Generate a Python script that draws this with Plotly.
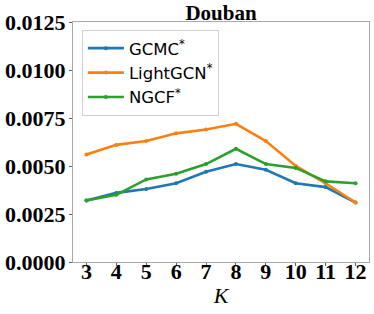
import plotly.graph_objects as go

K = [3, 4, 5, 6, 7, 8, 9, 10, 11, 12]
gcmc = [0.0032, 0.0036, 0.0038, 0.0041, 0.0047, 0.0051, 0.0048, 0.0041, 0.0039, 0.0031]
lightgcn = [0.0056, 0.0061, 0.0063, 0.0067, 0.0069, 0.0072, 0.0063, 0.0050, 0.0041, 0.0031]
ngcf = [0.0032, 0.0035, 0.0043, 0.0046, 0.0051, 0.0059, 0.0051, 0.0049, 0.0042, 0.0041]
names = ["GCMC<sup>*</sup>", "LightGCN<sup>*</sup>", "NGCF<sup>*</sup>"]
colors = ["#1f77b4", "#ff7f0e", "#2ca02c"]
yticks = [0.0, 0.0025, 0.005, 0.0075, 0.01, 0.0125]
ytick_text = ["0.0000", "0.0025", "0.0050", "0.0075", "0.0100", "0.0125"]

fig = go.Figure()
for name, vals, c in zip(names, [gcmc, lightgcn, ngcf], colors):
    fig.add_trace(go.Scatter(x=K, y=vals, name=name, mode="lines+markers",
                             line=dict(color=c, width=2.6),
                             marker=dict(color=c, size=4)))

serif = "Liberation Serif, Times New Roman, serif"
fig.update_layout(
    width=374, height=314,
    margin=dict(l=73, r=5, t=22, b=52),
    plot_bgcolor="white", paper_bgcolor="white",
    title=dict(text="Douban", x=0.5, xref="paper", xanchor="center",
               y=1 - 13 / 314, yref="container", yanchor="middle",
               font=dict(family=serif, size=21, color="black", weight="bold")),
    showlegend=True,
    legend=dict(x=0.03, y=0.967, xanchor="left", yanchor="top",
                bgcolor="white", bordercolor="#d0d0d0", borderwidth=1,
                font=dict(family="DejaVu Sans, sans-serif", size=16.5, color="black"),
                itemwidth=36, tracegroupgap=2),
    xaxis=dict(range=[2.55, 12.45], tickmode="array", tickvals=K,
               ticktext=[str(k) for k in K], automargin=False,
               tickfont=dict(family=serif, size=22, color="black", weight="bold"),
               showgrid=False, zeroline=False, showline=True, mirror=True,
               linecolor="#a8a8a8", linewidth=1.2, ticks="outside", ticklen=3,
               tickcolor="#606060", ticklabelstandoff=-14,
               title=dict(text="<i>K</i>", font=dict(family=serif, size=22, color="black"),
                          standoff=5)),
    yaxis=dict(range=[0, 0.0125], tickmode="array", tickvals=yticks, ticktext=ytick_text,
               automargin=False,
               tickfont=dict(family=serif, size=22, color="black", weight="bold"),
               showgrid=False, zeroline=False, showline=True, mirror=True,
               linecolor="#a8a8a8", linewidth=1.2, ticks="outside", ticklen=3,
               tickcolor="#606060", ticklabelstandoff=-1),
)
fig.write_html("out.html", config={"displayModeBar": False},
               post_script="document.body.style.margin='0';document.body.style.overflow='hidden';")
